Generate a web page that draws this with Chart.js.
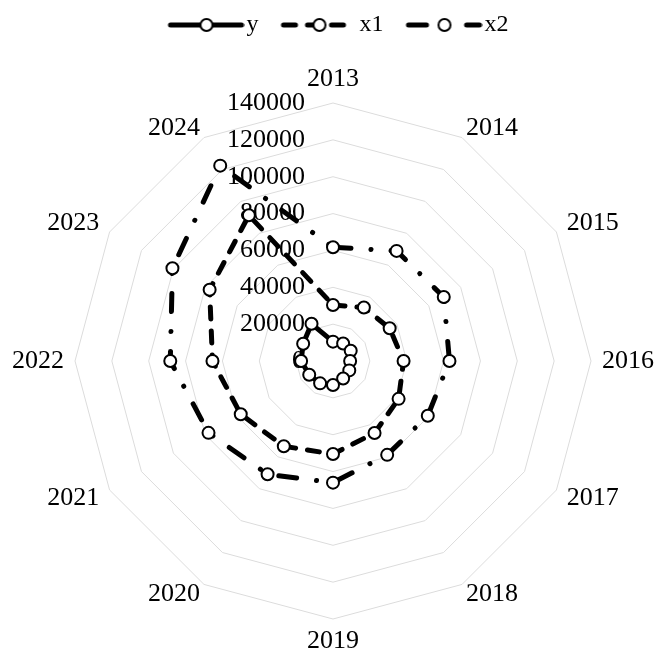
<!DOCTYPE html>
<html>
<head>
<meta charset="utf-8">
<script src="https://cdn.jsdelivr.net/npm/chart.js@4.4.1/dist/chart.umd.min.js"></script>
<style>
  html, body { margin: 0; padding: 0; background: #fff; }
</style>
</head>
<body>
<canvas id="radarChart" width="655" height="655"></canvas>
<script>
// categories and series
const years = ['2013', '2014', '2015', '2016', '2017', '2018', '2019', '2020', '2021', '2022', '2023', '2024'];
const ySeries = [10500, 11000, 11100, 9300, 10200, 11000, 13000, 14000, 14900, 17300, 18700, 23300];
const x1Series = [30400, 33500, 35500, 38300, 41100, 45100, 50500, 53400, 57800, 65400, 77300, 91300];
const x2Series = [61700, 69000, 69400, 63200, 59400, 58800, 66000, 71000, 78000, 88300, 100600, 122400];
const tickValues = [0, 20000, 40000, 60000, 80000, 100000, 120000, 140000];

const serifFont = '"Liberation Serif", "Times New Roman", serif';
const dashY = [];
const dashX1 = [12, 12];
const dashX2 = [18, 20, 0.1, 20];

// legend sample: a line with the marker in the middle
function makeLegendIcon(dash) {
    const c = document.createElement('canvas');
    c.width = 96;
    c.height = 16;
    const g = c.getContext('2d');
    g.strokeStyle = '#000';
    g.lineWidth = 5;
    g.lineCap = 'round';
    g.setLineDash(dash);
    g.beginPath();
    g.moveTo(22, 8);
    g.lineTo(93, 8);
    g.stroke();
    g.setLineDash([]);
    g.beginPath();
    g.arc(58, 8, 6, 0, Math.PI * 2);
    g.fillStyle = '#fff';
    g.fill();
    g.lineWidth = 2;
    g.stroke();
    return c;
}

const legendIcons = [makeLegendIcon(dashY), makeLegendIcon(dashX1), makeLegendIcon(dashX2)];

// value labels, right aligned left of the vertical axis
const tickLabelPlugin = {
    id: 'tickLabels',
    beforeDatasetsDraw(chart) {
        const scale = chart.scales.r;
        const ctx = chart.ctx;
        ctx.save();
        ctx.font = '26px ' + serifFont;
        ctx.fillStyle = '#000';
        ctx.textAlign = 'right';
        ctx.textBaseline = 'middle';
        tickValues.forEach(v => {
            const y = scale.yCenter - scale.getDistanceFromCenterForValue(v);
            ctx.fillText(String(v), scale.xCenter - 28, y);
        });
        ctx.restore();
    }
};

// year labels: top/bottom sit on a full line box, slanted ones hug their spoke
function labelPadding(c) {
    const k = c.index % 6;
    if (c.index === 6) return 9;
    if (k === 1 || k === 5) return 8;
    if (k === 2 || k === 4) return 12;
    return 11;
}

function labelFont(c) {
    const k = c.index % 3;
    return { family: serifFont, size: 26, lineHeight: k === 0 ? 1 : 0.2 };
}

function lineSet(label, data, dash) {
    return {
        label: label,
        data: data,
        borderColor: '#000',
        borderWidth: 5,
        borderDash: dash,
        borderCapStyle: 'round',
        borderJoinStyle: 'round',
        backgroundColor: 'transparent',
        fill: false,
        tension: 0,
        pointRadius: 6,
        pointHoverRadius: 6,
        pointBorderWidth: 2,
        pointBackgroundColor: '#fff',
        pointBorderColor: '#000'
    };
}

const ctx = document.getElementById('radarChart').getContext('2d');

new Chart(ctx, {
    type: 'radar',
    data: {
        labels: years,
        datasets: [
            lineSet('y', ySeries, dashY),
            lineSet('x1', x1Series, dashX1),
            lineSet('x2', x2Series, dashX2)
        ]
    },
    options: {
        responsive: false,
        animation: false,
        devicePixelRatio: 1,
        layout: { padding: { top: 0, left: 12, right: 0, bottom: 0 } },
        plugins: {
            legend: {
                position: 'top',
                labels: {
                    usePointStyle: true,
                    pointStyleWidth: 76,
                    padding: 13,
                    color: '#000',
                    font: { family: serifFont, size: 24 },
                    generateLabels: function (chart) {
                        const items = Chart.defaults.plugins.legend.labels.generateLabels(chart);
                        return items.map((item, i) => Object.assign(item, { pointStyle: legendIcons[i] }));
                    }
                }
            },
            // empty spacer between the legend and the plot
            subtitle: {
                display: true,
                text: '',
                weight: 500,
                padding: 0,
                font: { size: 18, lineHeight: 1 }
            },
            tooltip: { enabled: false }
        },
        scales: {
            r: {
                min: 0,
                max: 140000,
                ticks: { display: false, stepSize: 20000 },
                grid: { color: '#dcdcdc', lineWidth: 1 },
                angleLines: { display: false },
                pointLabels: {
                    color: '#000',
                    font: labelFont,
                    padding: labelPadding
                }
            }
        }
    },
    plugins: [tickLabelPlugin]
});
</script>
</body>
</html>
